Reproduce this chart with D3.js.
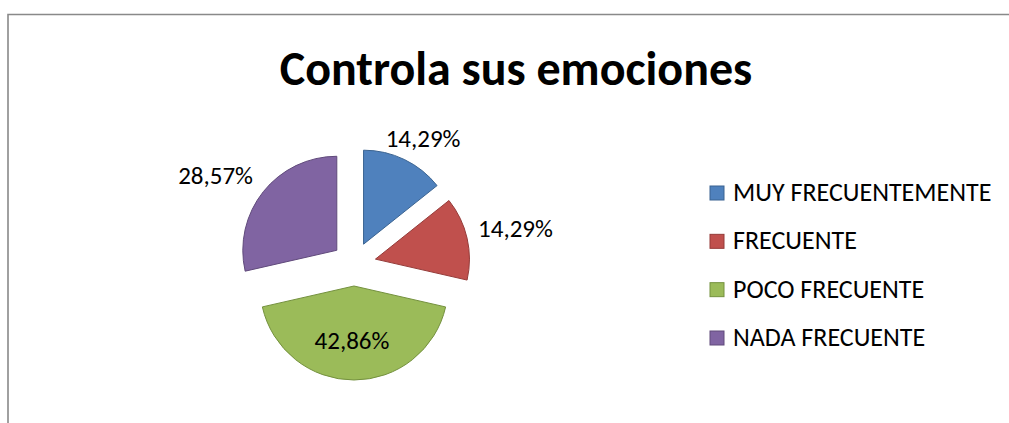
<!DOCTYPE html>
<html>
<head>
<meta charset="utf-8">
<script src="https://cdn.jsdelivr.net/npm/d3@7"></script>
<style>
  html, body { margin: 0; background: #fff; overflow: hidden; }
  svg { display: block; }
  text { font-family: Carlito, Calibri, Lato, sans-serif; fill: #000; }
</style>
</head>
<body>
<svg id="chart" width="1009" height="423"></svg>
<script>
// chart data
var categories = ["MUY FRECUENTEMENTE", "FRECUENTE", "POCO FRECUENTE", "NADA FRECUENTE"];
var percents = [14.29, 14.29, 42.86, 28.57];
var labels = ["14,29%", "14,29%", "42,86%", "28,57%"];
var fills = ["#4F81BD", "#C0504D", "#9BBB59", "#8064A2"];
var strokes = ["#3A6391", "#953B39", "#74913E", "#604A7B"];

var svg = d3.select("#chart");

// outer frame (only top and left edges are in view)
svg.append("path")
    .attr("d", "M8,423V14.5H1009")
    .attr("fill", "none")
    .attr("stroke", "#898989")
    .attr("stroke-width", 1.6);

// title
svg.append("text")
    .attr("x", 516).attr("y", 85)
    .attr("text-anchor", "middle")
    .style("font-size", "48px")
    .style("font-weight", "bold")
    .text("Controla sus emociones");

// pie
var cx = 354, cy = 264, r = 94, explode = 22;

var pie = d3.pie().sort(null).value(d => d);
var arcs = pie(percents);
var arc = d3.arc().innerRadius(0).outerRadius(r);

var g = svg.append("g").attr("transform", "translate(" + cx + "," + cy + ")");

arcs.forEach(function (a, i) {
    a.mid = (a.startAngle + a.endAngle) / 2;
    a.dx = Math.sin(a.mid);
    a.dy = -Math.cos(a.mid);
});

g.selectAll("path.slice")
    .data(arcs)
    .enter().append("path")
    .attr("class", "slice")
    .attr("d", arc)
    .attr("transform", d => "translate(" + (d.dx * explode) + "," + (d.dy * explode) + ")")
    .attr("fill", (d, i) => fills[i])
    .attr("stroke", (d, i) => strokes[i])
    .attr("stroke-width", 1);

// data labels: big slice inside, the rest outside (best fit)
var lbl = g.selectAll("text.lbl")
    .data(arcs)
    .enter().append("text")
    .attr("class", "lbl")
    .attr("text-anchor", "middle")
    .attr("dy", "0.35em")
    .style("font-size", "25px")
    .text((d, i) => labels[i]);

lbl.each(function (d) {
    var el = d3.select(this);
    var w = this.getComputedTextLength(), h = 18;
    var x, y, rr;
    if (d.endAngle - d.startAngle > Math.PI * 0.8) {
        rr = explode + r * 0.58;
        x = d.dx * rr - 2; y = d.dy * rr;
    } else {
        rr = explode + r + 8;
        // excel sits the outside labels a little higher/left of the slice
        x = d.dx * rr + d.dx * w / 2 * 1.25 - 5;
        y = d.dy * rr + d.dy * h / 2 - 6;
    }
    el.attr("x", x).attr("y", y);
});

// legend
var legend = svg.append("g").attr("transform", "translate(710,0)");
var ly = d3.scalePoint().domain(categories).range([193, 338]);

var items = legend.selectAll("g")
    .data(categories)
    .enter().append("g")
    .attr("transform", d => "translate(0," + ly(d) + ")");

items.append("rect")
    .attr("x", 0).attr("y", -7)
    .attr("width", 14).attr("height", 14)
    .attr("fill", (d, i) => fills[i])
    .attr("stroke", (d, i) => strokes[i])
    .attr("stroke-width", 1);

items.append("text")
    .attr("x", 23).attr("y", 8)
    .style("font-size", "26px")
    .text(d => d);
</script>
</body>
</html>
